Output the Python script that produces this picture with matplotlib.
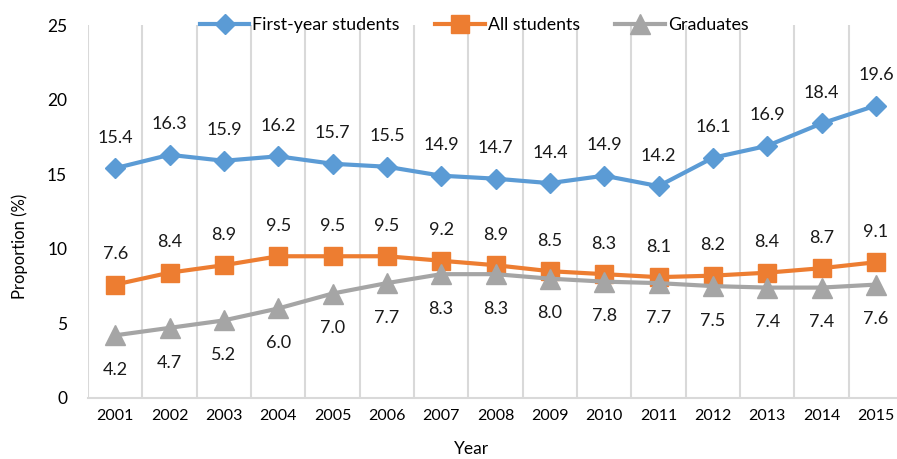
import numpy as np
import matplotlib
matplotlib.use("Agg")
import matplotlib.pyplot as plt

# data
years = ['2001', '2002', '2003', '2004', '2005', '2006', '2007', '2008',
         '2009', '2010', '2011', '2012', '2013', '2014', '2015']
first_year = [15.4, 16.3, 15.9, 16.2, 15.7, 15.5, 14.9, 14.7, 14.4, 14.9, 14.2, 16.1, 16.9, 18.4, 19.6]
all_students = [7.6, 8.4, 8.9, 9.5, 9.5, 9.5, 9.2, 8.9, 8.5, 8.3, 8.1, 8.2, 8.4, 8.7, 9.1]
graduates = [4.2, 4.7, 5.2, 6.0, 7.0, 7.7, 8.3, 8.3, 8.0, 7.8, 7.7, 7.5, 7.4, 7.4, 7.6]

plt.rcParams['font.family'] = ['Lato', 'DejaVu Sans']

W, H = 897, 459
fig = plt.figure(figsize=(W / 100, H / 100), dpi=100)
# plot area runs slightly past the right edge like in the original
ax = fig.add_axes([88 / W, (H - 398) / H, (903 - 88) / W, (398 - 25) / H])

x = np.arange(len(years))
blue, orange, gray = '#5B9BD5', '#ED7D31', '#A5A5A5'

ax.plot(x, first_year, color=blue, lw=3, marker='D', ms=10, label='First-year students', zorder=3)
ax.plot(x, all_students, color=orange, lw=3, marker='s', ms=13, label='All students', zorder=3)
ax.plot(x, graduates, color=gray, lw=3, marker='^', ms=14, label='Graduates', zorder=3)

for i in range(len(years)):
    ax.annotate('%.1f' % first_year[i], (x[i], first_year[i]), xytext=(0, 22),
                textcoords='offset points', ha='center', va='center', fontsize=13, color='#1a1a1a')
    ax.annotate('%.1f' % all_students[i], (x[i], all_students[i]), xytext=(0, 22),
                textcoords='offset points', ha='center', va='center', fontsize=13, color='#1a1a1a')
    ax.annotate('%.1f' % graduates[i], (x[i], graduates[i]), xytext=(0, -25),
                textcoords='offset points', ha='center', va='center', fontsize=13, color='#1a1a1a')

ax.set_xlim(-0.5, len(years) - 0.5)
ax.set_ylim(0, 25)
ax.set_yticks([0, 5, 10, 15, 20, 25])
ax.set_xticks(x)
ax.set_xticklabels(years, fontsize=11.5)
ax.tick_params(axis='y', labelsize=12.5, length=0, pad=15)
ax.tick_params(axis='x', length=0, pad=8)
ax.set_xticks(np.arange(-0.5, len(years), 1), minor=True)
ax.tick_params(axis='x', which='minor', length=0)
ax.grid(axis='x', which='minor', color='#D9D9D9', lw=1.5)
ax.grid(axis='x', which='major', visible=False)

for s in ['top', 'right', 'left']:
    ax.spines[s].set_visible(False)
ax.spines['bottom'].set_color('#D9D9D9')
ax.spines['bottom'].set_linewidth(1.5)

fig.text(20 / W, 1 - 246 / H, 'Proportion (%)', rotation=90, ha='center', va='center', fontsize=12)
fig.text(471 / W, 1 - 449 / H, 'Year', ha='center', va='center', fontsize=12.5)

fig.legend(loc='center', bbox_to_anchor=(474 / W, 1 - 25 / H), ncol=3, frameon=False,
           fontsize=12.8, handlelength=2.8, columnspacing=2.0, handletextpad=0.15, borderaxespad=0)

fig.savefig('out.png', dpi=100)
